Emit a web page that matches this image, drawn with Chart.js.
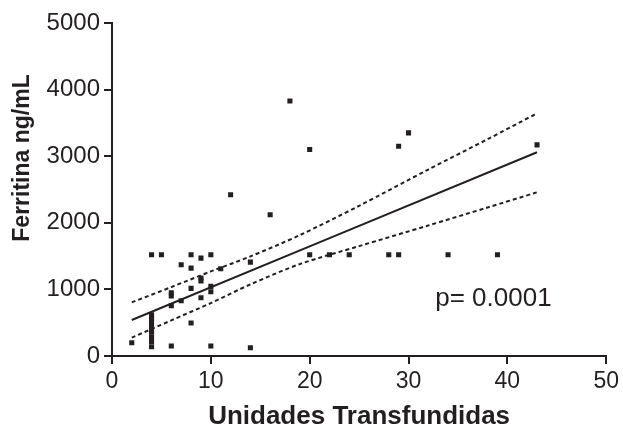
<!DOCTYPE html>
<html>
<head>
<meta charset="utf-8">
<script src="https://cdn.jsdelivr.net/npm/chart.js@4.4.1/dist/chart.umd.min.js"></script>
<style>
  html, body { margin: 0; padding: 0; background: #fff; }
  #wrap { width: 623px; height: 433px; }
</style>
</head>
<body>
<div id="wrap"><canvas id="ferritina"></canvas></div>
<script>
// transfused units vs ferritin, one entry per patient
const units = [2, 4, 5, 8, 9, 10, 7, 8, 11, 14,
  9, 9, 6, 6, 8, 10, 10, 6, 7, 9, 8,
  4, 4, 4, 4, 4, 4, 4, 4,
  6, 10, 14, 12, 16, 18, 20, 29, 30, 43,
  20, 22, 24, 28, 29, 34, 39];
const ferritin = [200, 1520, 1520, 1520, 1470, 1520, 1370, 1320, 1310, 1410,
  1170, 1125, 950, 900, 1015, 1045, 965, 755, 830, 875, 495,
  620, 560, 500, 430, 360, 290, 220, 140,
  150, 150, 125, 2420, 2120, 3830, 3100, 3150, 3350, 3170,
  1520, 1520, 1520, 1520, 1520, 1520, 1520];

// regression line
const fitX = [2, 43];
const fitY = [540, 3060];

// 95% confidence band
const bandX = [2, 6, 10, 14, 19, 25, 32, 38, 43];
const bandUpper = [806, 1035, 1270, 1495, 1815, 2255, 2800, 3255, 3644];
const bandLower = [275, 535, 795, 1075, 1380, 1650, 1960, 2230, 2458];

const xTitle = 'Unidades Transfundidas';
const yTitle = 'Ferritina ng/mL';
const pText = 'p= 0.0001';

const ink = '#231f20';
const fontName = "'Liberation Sans', Arial, sans-serif";

const toXY = (xs, ys) => xs.map((x, i) => ({ x: x, y: ys[i] }));

// axis titles and the p value, drawn by hand
const labels = {
  id: 'labels',
  afterDatasetsDraw(chart) {
    const ctx = chart.ctx;
    const xs = chart.scales.x, ys = chart.scales.y;
    ctx.save();
    ctx.fillStyle = ink;

    ctx.font = '26px ' + fontName;
    ctx.textAlign = 'left';
    ctx.textBaseline = 'alphabetic';
    ctx.fillText(pText, xs.getPixelForValue(32.7), ys.getPixelForValue(745));

    ctx.font = 'bold 26px ' + fontName;
    ctx.textAlign = 'center';
    ctx.textBaseline = 'middle';
    ctx.fillText(xTitle, (xs.left + xs.right) / 2, 417);

    ctx.font = 'bold 23px ' + fontName;
    ctx.translate(23, 158);
    ctx.rotate(-Math.PI / 2);
    ctx.fillText(yTitle, 0, 0);
    ctx.restore();
  }
};

const lineSet = (data, dash) => ({
  type: 'line',
  data: data,
  borderColor: ink,
  borderWidth: 2,
  borderDash: dash,
  pointRadius: 0,
  fill: false,
  tension: 0.3
});

new Chart(document.getElementById('ferritina'), {
  type: 'scatter',
  data: {
    datasets: [
      {
        data: toXY(units, ferritin),
        pointStyle: 'rect',
        pointRadius: 3.6,
        backgroundColor: ink,
        borderWidth: 0
      },
      lineSet(toXY(fitX, fitY), []),
      lineSet(toXY(bandX, bandUpper), [4, 3]),
      lineSet(toXY(bandX, bandLower), [4, 3])
    ]
  },
  options: {
    responsive: true,
    maintainAspectRatio: false,
    animation: false,
    layout: { padding: { top: 23, right: 14, left: 0, bottom: 0 } },
    plugins: { legend: { display: false }, tooltip: { enabled: false } },
    scales: {
      x: {
        min: 0, max: 50,
        afterFit: s => { s.height = 77; },
        ticks: { stepSize: 10, color: ink, padding: 4, font: { family: fontName, size: 23 }, maxRotation: 0 },
        grid: { drawOnChartArea: false, tickLength: 8, color: ink, lineWidth: 2 },
        border: { color: ink, width: 2 }
      },
      y: {
        min: 0, max: 5000,
        afterFit: s => { s.width = 112; },
        ticks: { stepSize: 1000, color: ink, padding: 4, font: { family: fontName, size: 24 },
          callback: v => String(v) },
        grid: { drawOnChartArea: false, tickLength: 8, color: ink, lineWidth: 2 },
        border: { color: ink, width: 2 }
      }
    }
  },
  plugins: [labels]
});
</script>
</body>
</html>
